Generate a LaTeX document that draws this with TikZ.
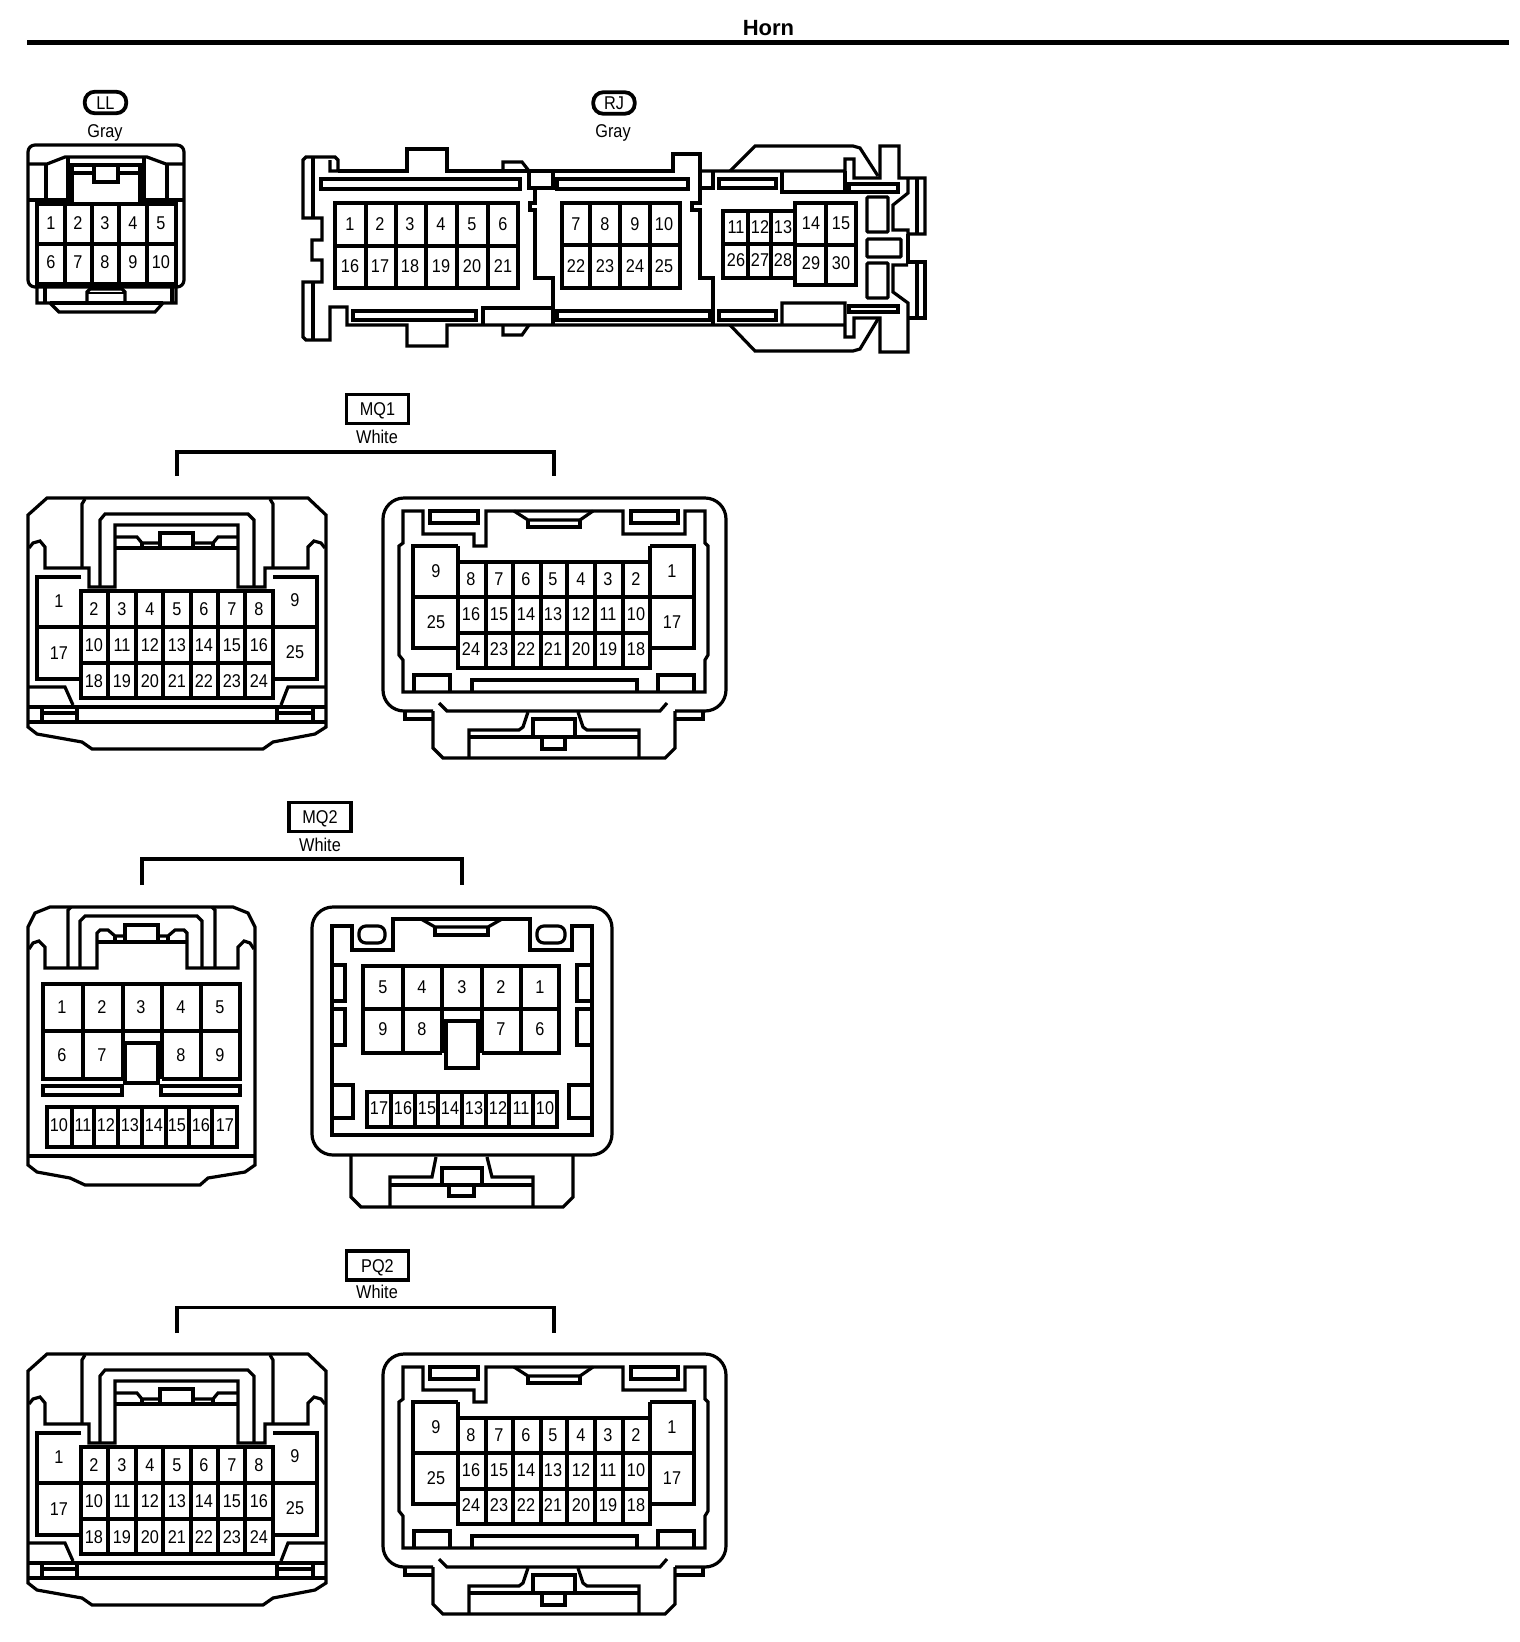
\documentclass[tikz,border=0pt]{standalone}
\usepackage{fontspec}
\setmainfont{Liberation Sans}
\newfontfamily\pinfont[FakeStretch=0.88]{Liberation Sans}
\tikzset{
  ln/.style={line width=3.2pt,line join=miter,line cap=butt},
  pn/.style={inner sep=0pt,outer sep=0pt,text height=13.2pt,text depth=0pt,font=\fontsize{18.5}{20}\pinfont},
  pill/.style={pn,draw,line width=3.8pt,rounded corners=10pt,minimum width=41.5pt,minimum height=21.5pt},
  tagbox/.style={pn,draw,line width=3.2pt,minimum width=62pt,minimum height=29pt},
  brk/.style={line width=3.6pt,line join=miter}
}
% ---------- 26-pin plug, left view
\newcommand\plugA[1]{%
  \draw[ln] (47,498) -- (308,498) -- (326,515) -- (326,727) -- (315,734) -- (273,742) -- (263,749) -- (92,749) -- (82,742) -- (37,734) -- (28,727) -- (28,515) -- cycle;
  \draw[ln] (82,568) -- (82,504) -- (85,499);
  \draw[ln] (273,568) -- (273,504) -- (270,499);
  \draw[ln] (29,548) -- (33,543) -- (40,541) -- (45,547) -- (45,568) -- (89,568) -- (89,587) -- (115,587) -- (115,525) -- (238,525) -- (238,587) -- (265,587) -- (265,568) -- (308,568) -- (308,547) -- (314,541) -- (321,543) -- (325,548);
  \draw[ln] (100,587) -- (100,520) -- (105,514) -- (248,514) -- (254,520) -- (254,587);
  \draw[ln] (115,537) -- (137,537) -- (142,543) -- (160,543);
  \draw[ln] (238,537) -- (218,537) -- (213,543) -- (193,543);
  \draw[ln] (115,548) -- (238,548);
  \draw[ln] (160,548) -- (160,533) -- (193,533) -- (193,548);
  \draw[ln] (142,543) -- (142,548);
  \draw[ln] (213,543) -- (213,548);
  \draw[ln] (81,577) -- (37,577) -- (37,679) -- (81,679);
  \draw[ln] (273,577) -- (317,577) -- (317,679) -- (273,679);
  \draw[ln] (37,627) -- (81,627);
  \draw[ln] (273,627) -- (317,627);
  \draw[ln] (81,591) rectangle (273,698);
  \draw[ln] (81,627) -- (273,627);
  \draw[ln] (81,663) -- (273,663);
  \foreach \x in {108,136,163,191,218,245} \draw[ln] (\x,591) -- (\x,698);
  \foreach \x/\a/\b/\c in {94/2/10/18,122/3/11/19,150/4/12/20,177/5/13/21,204/6/14/22,232/7/15/23,259/8/16/24} {
    \node[pn] (#1-\a) at (\x,609) {\a};
    \node[pn] (#1-\b) at (\x,645) {\b};
    \node[pn] (#1-\c) at (\x,681) {\c};
  }
  \node[pn] (#1-1) at (59,601) {1};
  \node[pn] (#1-17) at (59,653) {17};
  \node[pn] (#1-9) at (295,600) {9};
  \node[pn] (#1-25) at (295,652) {25};
  \draw[ln] (28,707) -- (326,707);
  \draw[ln] (28,722) -- (326,722);
  \draw[ln] (28,687) -- (65,687) -- (73,705);
  \draw[ln] (326,687) -- (288,687) -- (281,705);
  \draw[ln] (42,707) -- (42,722);
  \draw[ln] (77,707) -- (77,722);
  \draw[ln] (277,707) -- (277,722);
  \draw[ln] (313,707) -- (313,722);
  \draw[ln] (42,713) -- (77,713) (277,713) -- (313,713);
}
% ---------- 26-pin socket, right view
\newcommand\plugB[1]{%
  \draw[ln,rounded corners=21pt] (433,711) -- (383,711) -- (383,498) -- (726,498) -- (726,711) -- (675,711);
  \draw[ln] (403,511) -- (423,511) -- (423,534) -- (474,534) -- (474,546) -- (486,546) -- (486,511) -- (623,511) -- (623,534) -- (685,534) -- (685,511) -- (705,511) -- (705,543) -- (708,546) -- (708,655) -- (705,660) -- (705,692) -- (403,692) -- (403,660) -- (399,655) -- (399,546) -- (403,543) -- cycle;
  \draw[ln] (430,511) rectangle (478,523);
  \draw[ln] (631,511) rectangle (678,523);
  \draw[ln] (514,511) -- (528,520) -- (580,520) -- (593,511);
  \draw[ln] (528,520) -- (528,527) -- (580,527) -- (580,520);
  \draw[ln] (458,546) -- (413,546) -- (413,648) -- (458,648);
  \draw[ln] (650,546) -- (694,546) -- (694,648) -- (650,648);
  \draw[ln] (413,597) -- (694,597);
  \draw[ln] (458,562) rectangle (650,668);
  \draw[ln] (458,633) -- (650,633);
  \draw[ln] (458,546) -- (458,562);
  \draw[ln] (650,546) -- (650,562);
  \foreach \x in {486,513,541,567,595,623} \draw[ln] (\x,562) -- (\x,668);
  \foreach \x/\a/\b/\c in {471/8/16/24,499/7/15/23,526/6/14/22,553/5/13/21,581/4/12/20,608/3/11/19,636/2/10/18} {
    \node[pn] (#1-\a) at (\x,579) {\a};
    \node[pn] (#1-\b) at (\x,614) {\b};
    \node[pn] (#1-\c) at (\x,649) {\c};
  }
  \node[pn] (#1-9) at (436,571) {9};
  \node[pn] (#1-25) at (436,622) {25};
  \node[pn] (#1-1) at (672,571) {1};
  \node[pn] (#1-17) at (672,622) {17};
  \draw[ln] (414,692) -- (414,675) -- (450,675) -- (450,692);
  \draw[ln] (658,692) -- (658,675) -- (694,675) -- (694,692);
  \draw[ln] (472,692) -- (472,680) -- (637,680) -- (637,692);
  \draw[ln] (439,703) -- (447,711) -- (660,711) -- (667,703);
  \draw[ln] (405,711) -- (405,719) -- (433,719);
  \draw[ln] (433,711) -- (433,748) -- (443,758) -- (665,758) -- (675,748) -- (675,711);
  \draw[ln] (675,719) -- (703,719) -- (703,711);
  \draw[ln] (528,712) -- (523,727) -- (519,730) -- (469,730) -- (469,758);
  \draw[ln] (578,712) -- (583,727) -- (587,730) -- (639,730) -- (639,758);
  \draw[ln] (469,737) -- (639,737);
  \draw[ln] (533,737) -- (533,719) -- (575,719) -- (575,737);
  \draw[ln] (542,737) -- (542,749) -- (565,749) -- (565,737);
}
\begin{document}
\begin{tikzpicture}[x=1pt,y=-1pt]
\useasboundingbox (0,0) rectangle (1520,1642);
% title
\node[pn,font=\fontsize{22}{24}\selectfont\bfseries,text height=15.8pt] (title) at (768.5,28) {Horn};
\draw[line width=5pt] (27,42.5) -- (1509,42.5);

% ---------- LL
\node[pill] (ll) at (105.5,102.5) {LL};
\node[pn] (llc) at (105,131) {Gray};
\draw[ln,rounded corners=7pt] (28,145) rectangle (184,287);
\draw[ln] (28,164) -- (47,164) -- (65,157) -- (147,157) -- (166,164) -- (184,164);
\draw[ln] (46,164) -- (46,200);
\draw[ln] (167,164) -- (167,200);
\draw[ln] (68,157) -- (68,200);
\draw[ln] (144,157) -- (144,200);
\draw[ln] (28,200) -- (72,200);
\draw[ln] (140,200) -- (184,200);
\draw[ln] (72,204) -- (72,165) -- (140,165) -- (140,204);
\draw[ln] (72,173) -- (93,173);
\draw[ln] (118,173) -- (140,173);
\draw[ln] (94,165) -- (94,182) -- (118,182) -- (118,165);
\draw[ln] (37,204) rectangle (176,284);
\draw[ln] (37,244) -- (176,244);
\foreach \x in {65,92,119,147} \draw[ln] (\x,204) -- (\x,284);
\foreach \x/\a/\b in {51/1/6,78/2/7,105/3/8,133/4/9,161/5/10} {
  \node[pn] (ll-\a) at (\x,223) {\a};
  \node[pn] (ll-\b) at (\x,262) {\b};
}
\draw[ln] (37,287) -- (37,303) -- (50,303) -- (59,312) -- (155,312) -- (163,303) -- (176,303) -- (176,287);
\draw[ln] (45,287) -- (45,303);
\draw[ln] (172,287) -- (172,303);
\draw[ln] (50,303) -- (163,303);
\draw[ln] (87,303) -- (87,292) -- (90,289) -- (122,289) -- (125,292) -- (125,303);
\draw[line width=2pt] (87,293) -- (125,293);

% ---------- RJ
\node[pill] (rj) at (614,103) {RJ};
\node[pn] (rjc) at (613,131) {Gray};
\draw[ln] (338,171) -- (407,171) -- (407,149) -- (447,149) -- (447,171) -- (673,171) -- (673,154) -- (700,154) -- (700,203) -- (692,203) -- (692,210) -- (700,210) -- (700,278) -- (713,278) -- (713,325);
\draw[ln] (330,160) -- (330,171) -- (338,171) -- (338,160) -- (335,157) -- (306,157) -- (303,160) -- (303,218) -- (322,218) -- (322,240) -- (312,240) -- (312,260) -- (322,260) -- (322,282) -- (303,282) -- (303,337) -- (306,340) -- (330,340) -- (330,307) -- (347,307) -- (347,325) -- (407,325) -- (407,346) -- (447,346) -- (447,325) -- (845,325);
\draw[ln] (313,157) -- (313,218);
\draw[ln] (313,282) -- (313,340);
\draw[ln] (321,179) rectangle (520,189);
\draw[ln] (353,311) rectangle (476,320);
\draw[ln] (503,171) -- (503,162) -- (522,162) -- (529,171);
\draw[ln] (503,325) -- (503,335) -- (522,335) -- (529,325);
\draw[ln] (529,171) -- (529,188) -- (553,188) -- (553,171);
\draw[ln] (535,188) -- (535,203) -- (530,203) -- (530,210) -- (535,210) -- (535,278) -- (553,278) -- (553,325);
\draw[ln] (483,325) -- (483,308) -- (553,308);
\draw[ln] (700,188) -- (713,188) -- (713,171);
\draw[ln] (557,179) rectangle (688,189);
\draw[ln] (557,311) rectangle (710,320);
\draw[ln] (719,179) rectangle (776,188);
\draw[ln] (719,311) rectangle (776,320);
% RJ grids
\draw[ln] (335,203) rectangle (518,288);
\draw[ln] (335,246) -- (518,246);
\foreach \x in {366,396,426,457,488} \draw[ln] (\x,203) -- (\x,288);
\foreach \x/\a/\b in {350/1/16,380/2/17,410/3/18,441/4/19,472/5/20,503/6/21} {
  \node[pn] (rj-\a) at (\x,224) {\a};
  \node[pn] (rj-\b) at (\x,266) {\b};
}
\draw[ln] (562,203) rectangle (680,288);
\draw[ln] (562,245) -- (680,245);
\foreach \x in {590,620,650} \draw[ln] (\x,203) -- (\x,288);
\foreach \x/\a/\b in {576/7/22,605/8/23,635/9/24,664/10/25} {
  \node[pn] (rj-\a) at (\x,224) {\a};
  \node[pn] (rj-\b) at (\x,266) {\b};
}
\draw[ln] (723,211) rectangle (795,278);
\draw[ln] (723,244) -- (795,244);
\foreach \x in {748,771} \draw[ln] (\x,211) -- (\x,278);
\foreach \x/\a/\b in {736/11/26,760/12/27,783/13/28} {
  \node[pn] (rj-\a) at (\x,227) {\a};
  \node[pn] (rj-\b) at (\x,260) {\b};
}
\draw[ln] (795,203) rectangle (856,285);
\draw[ln] (795,245) -- (856,245);
\draw[ln] (826,203) -- (826,285);
\foreach \x/\a/\b in {811/14/29,841/15/30} {
  \node[pn] (rj-\a) at (\x,223) {\a};
  \node[pn] (rj-\b) at (\x,263) {\b};
}
% RJ right end
\draw[ln] (700,171) -- (845,171) -- (845,159) -- (854,159) -- (854,178) -- (880,178) -- (880,146) -- (899,146) -- (899,178) -- (925,178) -- (925,234) -- (908,234) -- (908,230) -- (893,230) -- (893,205) -- (908,193) -- (908,178);
\draw[ln] (908,234) -- (908,262) -- (925,262) -- (925,318) -- (908,318);
\draw[ln] (908,265) -- (893,265) -- (893,292) -- (908,303) -- (908,352) -- (880,352) -- (880,318) -- (854,318) -- (854,337) -- (845,337) -- (845,303) -- (782,303) -- (782,325);
\draw[ln] (730,171) -- (755,146) -- (853,146) -- (860,148) -- (878,176);
\draw[ln] (730,325) -- (755,351) -- (853,351) -- (860,349) -- (878,319);
\draw[ln] (782,171) -- (782,192) -- (845,192) -- (845,171);
\draw[ln] (917,178) -- (917,234);
\draw[ln] (917,262) -- (917,318);
\draw[ln] (849,184) rectangle (898,192);
\draw[ln] (849,306) rectangle (898,312);
\draw[ln,rounded corners=1pt] (867,197) rectangle (888,232);
\draw[ln,rounded corners=1pt] (867,239) rectangle (901,257);
\draw[ln,rounded corners=1pt] (867,263) rectangle (888,298);

% ---------- MQ1
\node[tagbox] (mq1) at (377.5,409) {MQ1};
\node[pn] (mq1c) at (377,437) {White};
\coordinate (mq1a) at (177,476);
\coordinate (mq1b) at (554,476);
\draw[brk] (mq1a) |- (365,452) -| (mq1b);
\plugA{mqa}
\plugB{mqb}

% ---------- MQ2
\node[tagbox] (mq2) at (320,817) {MQ2};
\node[pn] (mq2c) at (320,845) {White};
\coordinate (mq2a) at (142,885);
\coordinate (mq2b) at (462,885);
\draw[brk] (mq2a) |- (300,859) -| (mq2b);
% left plug
\draw[ln] (50,907) -- (233,907) -- (248,913) -- (255,927) -- (255,1165) -- (245,1172) -- (208,1178) -- (200,1185) -- (85,1185) -- (70,1178) -- (37,1172) -- (28,1165) -- (28,927) -- (35,913) -- cycle;
\draw[ln] (28,1156) -- (255,1156);
\draw[ln] (68,968) -- (68,910) -- (71,907);
\draw[ln] (215,968) -- (215,910) -- (212,907);
\draw[ln] (29,949) -- (33,943) -- (39,941) -- (45,947) -- (45,968) -- (97,968) -- (97,933) -- (100,930) -- (108,930) -- (115,936) -- (125,936);
\draw[ln] (254,949) -- (250,943) -- (244,941) -- (238,947) -- (238,968) -- (187,968) -- (187,933) -- (184,930) -- (175,930) -- (168,936) -- (158,936);
\draw[ln] (97,942) -- (187,942);
\draw[ln] (115,936) -- (115,942);
\draw[ln] (168,936) -- (168,942);
\draw[ln] (125,942) -- (125,925) -- (158,925) -- (158,942);
\draw[ln] (80,968) -- (80,921) -- (85,916) -- (197,916) -- (202,921) -- (202,968);
\draw[ln] (123,1079) -- (43,1079) -- (43,984) -- (240,984) -- (240,1079) -- (162,1079);
\draw[ln] (43,1031) -- (240,1031);
\foreach \x in {83,201} \draw[ln] (\x,984) -- (\x,1079);
\foreach \x in {123,162} {\draw[ln] (\x,984) -- (\x,1031); \draw[ln] (\x,1031) -- (\x,1079);}
\draw[ln] (125,1043) rectangle (158,1083);
\foreach \x/\a in {62/1,102/2,141/3,181/4,220/5} \node[pn] (m2l-\a) at (\x,1007) {\a};
\foreach \x/\a in {62/6,102/7,181/8,220/9} \node[pn] (m2l-\a) at (\x,1055) {\a};
\draw[ln] (43,1086) rectangle (122,1095);
\draw[ln] (161,1086) rectangle (240,1095);
\draw[ln] (47,1107) rectangle (237,1147);
\foreach \x in {72,94,118,142,166,189,212} \draw[ln] (\x,1107) -- (\x,1147);
\foreach \x/\a in {59/10,83/11,106/12,130/13,154/14,177/15,201/16,225/17} \node[pn] (m2l-\a) at (\x,1125) {\a};
% right socket
\draw[ln,rounded corners=21pt] (312,907) rectangle (612,1155);
\draw[ln] (332,926) -- (352,926) -- (352,950) -- (393,950) -- (393,919) -- (530,919) -- (530,950) -- (572,950) -- (572,926) -- (592,926) -- (592,1135) -- (332,1135) -- cycle;
\draw[ln,rounded corners=7pt] (359,926) rectangle (385,943);
\draw[ln,rounded corners=7pt] (537,926) rectangle (565,943);
\draw[ln] (421,919) -- (435,927) -- (488,927) -- (502,919);
\draw[ln] (435,927) -- (435,935) -- (488,935) -- (488,927);
\draw[ln] (332,965) -- (345,965) -- (345,1001) -- (332,1001);
\draw[ln] (332,1009) -- (345,1009) -- (345,1045) -- (332,1045);
\draw[ln] (592,965) -- (577,965) -- (577,1001) -- (592,1001);
\draw[ln] (592,1009) -- (577,1009) -- (577,1045) -- (592,1045);
\draw[ln] (332,1085) -- (353,1085) -- (353,1118) -- (332,1118);
\draw[ln] (592,1085) -- (569,1085) -- (569,1118) -- (592,1118);
\draw[ln] (442,1053) -- (363,1053) -- (363,966) -- (559,966) -- (559,1053) -- (482,1053);
\draw[ln] (363,1009) -- (559,1009);
\foreach \x in {403,442,482,521} \draw[ln] (\x,966) -- (\x,1053);
\draw[ln] (446,1021) rectangle (478,1068);
\foreach \x/\a in {383/5,422/4,462/3,501/2,540/1} \node[pn] (m2r-\a) at (\x,987) {\a};
\foreach \x/\a in {383/9,422/8,501/7,540/6} \node[pn] (m2r-\a) at (\x,1029) {\a};
\draw[ln] (367,1092) rectangle (557,1127);
\foreach \x in {391,415,438,462,486,509,533} \draw[ln] (\x,1092) -- (\x,1127);
\foreach \x/\a in {379/17,403/16,427/15,450/14,474/13,498/12,521/11,545/10} \node[pn] (m2r-\a) at (\x,1108) {\a};
\draw[ln] (351,1155) -- (351,1197) -- (361,1207) -- (563,1207) -- (573,1197) -- (573,1155);
\draw[ln] (436,1157) -- (432,1177) -- (390,1177) -- (390,1207);
\draw[ln] (487,1157) -- (492,1177) -- (533,1177) -- (533,1207);
\draw[ln] (390,1185) -- (533,1185);
\draw[ln] (442,1185) -- (442,1168) -- (482,1168) -- (482,1185);
\draw[ln] (449,1185) -- (449,1196) -- (474,1196) -- (474,1185);

% ---------- PQ2
\node[tagbox] (pq2) at (377.5,1265.5) {PQ2};
\node[pn] (pq2c) at (377,1292) {White};
\coordinate (pq2a) at (177,1333);
\coordinate (pq2b) at (554,1333);
\draw[brk] (pq2a) |- (365,1307.5) -| (pq2b);
\begin{scope}[yshift=-856pt]
\plugA{pqa}
\plugB{pqb}
\end{scope}
\end{tikzpicture}
\end{document}
